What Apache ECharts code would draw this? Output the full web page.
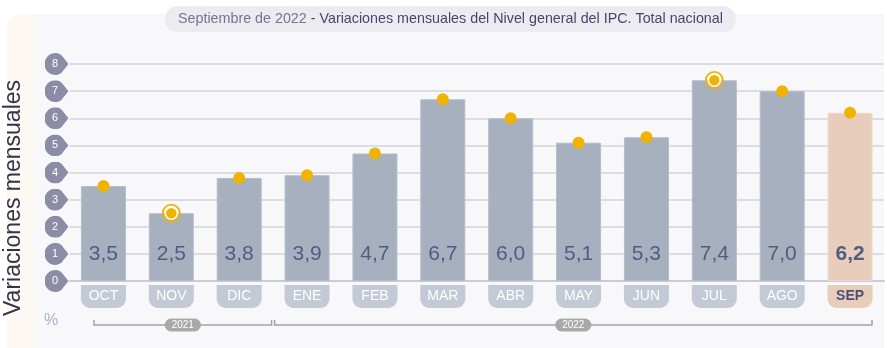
<!DOCTYPE html>
<html><head><meta charset="utf-8">
<script src="https://cdn.jsdelivr.net/npm/echarts@6/dist/echarts.min.js"></script>
<style>html,body{margin:0;padding:0;background:#fff}#c{width:887px;height:348px}</style>
</head><body><div id="c"></div>
<script>
const months = ['OCT','NOV','DIC','ENE','FEB','MAR','ABR','MAY','JUN','JUL','AGO','SEP'];
const values = [3.5,2.5,3.8,3.9,4.7,6.7,6.0,5.1,5.3,7.4,7.0,6.2];
const highlighted = ['NOV','JUL'];
const currentMonth = 'SEP';
const years = ['2021','2022'];
const yearFirst = [0,3];
const yearLast = [2,11];
const yMin = 0, yMax = 8, yStep = 1;
const titleDate = 'Septiembre de 2022';
const titleMain = ' - Variaciones mensuales del Nivel general del IPC. Total nacional';
const yTitle = 'Variaciones mensuales';
const unit = '%';

const fmt = v => v.toFixed(1).replace('.', ',');
const dropSvg = 'data:image/svg+xml;utf8,' + encodeURIComponent(
 '<svg xmlns="http://www.w3.org/2000/svg" width="24" height="22" viewBox="0 0 24 22"><path d="M11 0 C14.5 0 17.2 1.8 18.8 4.6 L24 11 L18.8 17.4 C17.2 20.2 14.5 22 11 22 A11 11 0 0 1 11 0 Z" fill="#8c8ca7"/></svg>');

const chart = echarts.init(document.getElementById('c'), null, {renderer:'canvas'});
const barData = months.map((m,i)=>({
  value: values[i],
  itemStyle: m===currentMonth ? {color:'#e8cdbd', borderColor:'#eed8ca'} : undefined,
  label: m===currentMonth ? {fontWeight:'bold'} : undefined
}));
const dotData = months.map((m,i)=>({
  value: values[i],
  itemStyle: highlighted.includes(m) ? {borderColor:'#fff', borderWidth:1.5} : undefined
}));
const ringData = months.map((m,i)=> highlighted.includes(m) ? values[i] : '-');
const bracketData = years.map((y,i)=>[yearFirst[i], yearLast[i], y]);
const FF = '"Liberation Sans", Arial, sans-serif';

chart.setOption({
  animation:false,
  graphic:[
    {type:'rect', z:-10, shape:{x:7,y:14,width:877,height:340,r:[16,0,0,0]}, style:{fill:'#f8f8fa'}},
    {type:'rect', z:-9, shape:{x:7,y:14,width:27,height:340,r:[16,0,0,0]}, style:{fill:'#fdf8f2'}},
    {type:'text', z:5, x:14, y:198, rotation:Math.PI/2, style:{text:yTitle, fill:'#33334a', font:'23px '+FF, align:'center', verticalAlign:'middle'}},
    {type:'text', z:5, x:51, y:321, style:{text:unit, fill:'#a9b1c8', font:'16px '+FF, align:'center', verticalAlign:'middle'}}
  ],
  title:{
    left:165, top:5,
    text:'{a|'+titleDate+'}{b|'+titleMain+'}',
    backgroundColor:'#ebebf0', borderRadius:14, padding:[6,13,6,13],
    textStyle:{fontWeight:'normal', rich:{
      a:{color:'#7a7196', fontSize:14.3, fontWeight:'normal', fontFamily:FF, lineHeight:16},
      b:{color:'#4a4470', fontSize:14.3, fontWeight:'normal', fontFamily:FF, lineHeight:16}
    }}
  },
  grid:{left:69.5, right:3, top:64, bottom:67, containLabel:false},
  xAxis:{
    type:'category', data:months,
    axisTick:{show:false},
    axisLine:{lineStyle:{color:'#c9ccd6', width:2}},
    axisLabel:{
      margin:4,
      formatter: v => v===currentMonth ? '{s|'+v+'}' : '{n|'+v+'}',
      rich:{
        n:{width:45, height:23, lineHeight:23, align:'center', backgroundColor:'#c3c9d5', borderRadius:[0,0,9,9], color:'#fff', fontSize:14, fontFamily:FF},
        s:{width:45, height:23, lineHeight:23, align:'center', backgroundColor:'#e8cdbb', borderRadius:[0,0,9,9], color:'#4a5078', fontSize:14, fontWeight:'bold', fontFamily:FF}
      }
    }
  },
  yAxis:{
    type:'value', min:yMin, max:yMax, interval:yStep,
    axisLine:{show:false}, axisTick:{show:false},
    splitLine:{lineStyle:{color:'#d3d4db', width:1.5}},
    axisLabel:{
      margin:1,
      formatter: v => '{d|'+v+'}',
      rich:{d:{width:21, height:22, lineHeight:22, padding:[0,3,0,0], align:'center', color:'#fff', fontSize:11, fontFamily:FF, backgroundColor:{image:dropSvg}}}
    }
  },
  series:[
    {type:'bar', data:barData, barWidth:45, z:2,
     itemStyle:{color:'#a6b0bf', borderColor:'#b4bdca', borderWidth:1},
     label:{show:true, position:'insideBottom', distance:16, formatter:p=>fmt(p.value), color:'#525c80', fontSize:21, fontFamily:FF}},
    {type:'scatter', data:dotData, symbol:'circle', symbolSize:12, z:4, itemStyle:{color:'#f0b400', opacity:1}},
    {type:'scatter', data:ringData, symbol:'circle', symbolSize:17, z:3, itemStyle:{color:'rgba(0,0,0,0)', borderColor:'#f0b400', borderWidth:1.8, opacity:1}},
    {type:'custom', data:bracketData, clip:false, z:5, encode:{x:[0,1]},
     renderItem:(params, api)=>{
       const bw = api.size([1,0])[0];
       const c0 = api.coord([api.value(0), 0]);
       const c1 = api.coord([api.value(1), 0]);
       const gl = api.coord([0,0])[0] - bw/2;
       const gr = api.coord([months.length-1,0])[0] + bw/2;
       const x0 = Math.max(c0[0]-bw/2+1.5, gl+24.5);
       const x1 = Math.min(c1[0]+bw/2-1.5, gr-12);
       const y = c0[1] + 44;
       const label = years[params.dataIndex];
       return {type:'group', children:[
         {type:'polyline', shape:{points:[[x0,y-5],[x0,y],[x1,y],[x1,y-5]]}, style:{stroke:'#a3a3a3', lineWidth:1.5, fill:null}},
         {type:'text', x:(x0+x1)/2, y:y, style:{text:label, fill:'#fff', font:'10px '+FF, align:'center', verticalAlign:'middle', backgroundColor:'#a9a9a9', padding:[2,7,1,7], borderRadius:7}}
       ]};
     }}
  ]
});
</script></body></html>
